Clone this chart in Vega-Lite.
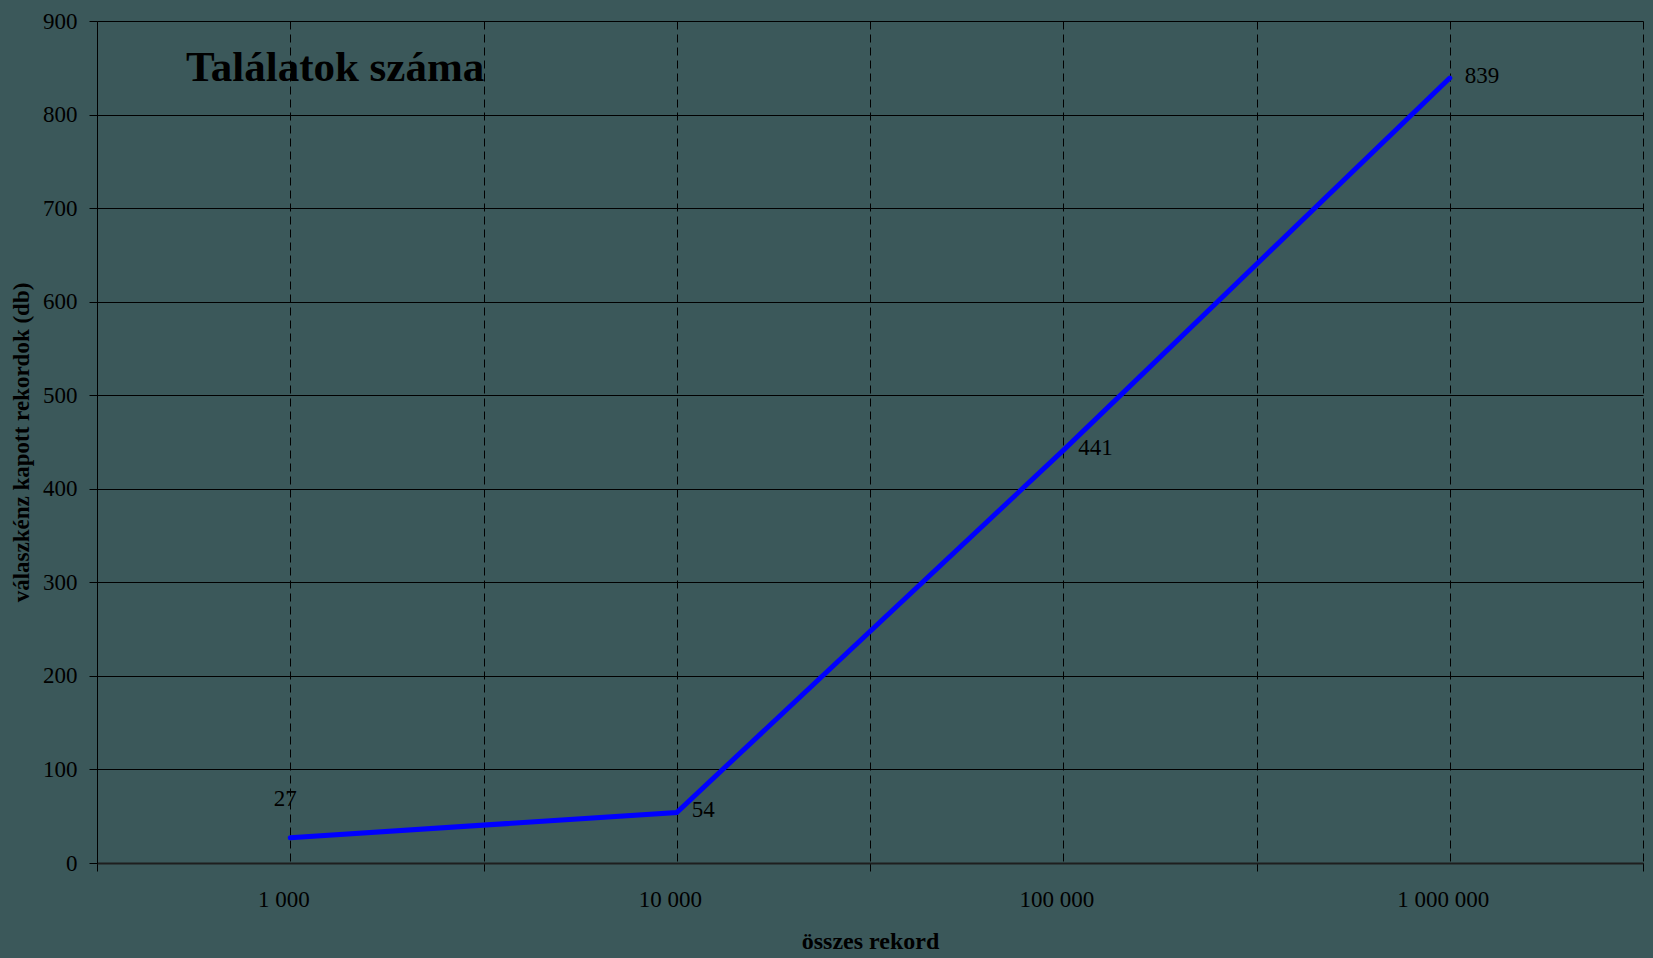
{
  "$schema": "https://vega.github.io/schema/vega-lite/v6.json",
  "width": 1546,
  "height": 842,
  "autosize": "none",
  "padding": {"left": 97, "top": 21, "right": 10, "bottom": 95},
  "background": "#3b585a",
  "config": {
    "view": {"stroke": null},
    "font": "Liberation Serif"
  },
  "datasets": {
    "hits": [
      {"records": 1000, "found": 27},
      {"records": 10000, "found": 54},
      {"records": 100000, "found": 441},
      {"records": 1000000, "found": 839}
    ],
    "heading": [
      {"records": 537.4, "found": 835.5, "text": "Találatok száma"}
    ]
  },
  "encoding": {
    "x": {
      "field": "records",
      "type": "quantitative",
      "scale": {"type": "log", "domain": [316.227766, 3162277.66], "nice": false},
      "axis": {
        "title": "összes rekord",
        "titleFont": "Liberation Serif",
        "titleFontSize": 24,
        "titleFontWeight": "bold",
        "titleColor": "#000000",
        "titlePadding": 18,
        "values": [316.227766, 1000, 3162.27766, 10000, 31622.7766, 100000, 316227.766, 1000000, 3162277.66],
        "labelExpr": "indexof([1000,10000,100000,1000000], datum.value) >= 0 ? replace(format(datum.value, ','), regexp(',', 'g'), ' ') : ''",
        "labelFontSize": 23,
        "labelColor": "#000000",
        "labelPadding": 17,
        "labelOffset": -7,
        "labelFlush": false,
        "labelOverlap": false,
        "domainColor": "#1e1e1e",
        "domainWidth": 2,
        "tickColor": "#000000",
        "tickSize": 8,
        "tickOpacity": {"condition": {"test": "indexof([1000,10000,100000,1000000], datum.value) >= 0", "value": 0}, "value": 1},
        "grid": true,
        "gridColor": "#000000",
        "gridDash": [8, 5],
        "gridWidth": 1,
        "gridOpacity": {"condition": {"test": "datum.value < 500", "value": 0}, "value": 1}
      }
    },
    "y": {
      "field": "found",
      "type": "quantitative",
      "scale": {"domain": [0, 900], "nice": false},
      "axis": {
        "title": "válaszkénz kapott rekordok (db)",
        "titleFont": "Liberation Serif",
        "titleFontSize": 23,
        "titleFontWeight": "bold",
        "titleColor": "#000000",
        "titlePadding": 9,
        "values": [0, 100, 200, 300, 400, 500, 600, 700, 800, 900],
        "labelFontSize": 23,
        "labelColor": "#000000",
        "labelPadding": 12,
        "domainColor": "#000000",
        "tickColor": "#000000",
        "tickSize": 8,
        "grid": true,
        "gridColor": "#000000",
        "gridWidth": 1
      }
    }
  },
  "layer": [
    {
      "data": {"name": "hits"},
      "mark": {"type": "line", "color": "#0000ff", "strokeWidth": 5, "strokeCap": "round"}
    },
    {
      "data": {"name": "hits"},
      "transform": [{"filter": "datum.records > 1000"}],
      "mark": {"type": "text", "align": "left", "baseline": "middle", "dx": 15, "dy": -2, "fontSize": 23, "color": "#000000"},
      "encoding": {"text": {"field": "found", "type": "quantitative"}}
    },
    {
      "data": {"name": "hits"},
      "transform": [{"filter": "datum.records == 1000"}],
      "mark": {"type": "text", "align": "center", "baseline": "middle", "dx": -5, "dy": -39, "fontSize": 23, "color": "#000000"},
      "encoding": {"text": {"field": "found", "type": "quantitative"}}
    },
    {
      "data": {"name": "heading"},
      "mark": {"type": "text", "align": "left", "baseline": "alphabetic", "fontSize": 43, "fontWeight": "bold", "color": "#000000"},
      "encoding": {"text": {"field": "text"}}
    }
  ]
}
